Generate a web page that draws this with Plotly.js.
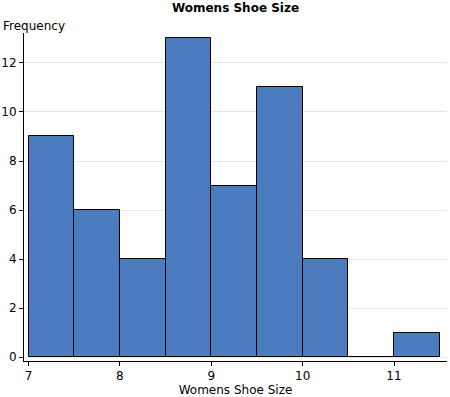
<!DOCTYPE html>
<html><head><meta charset="utf-8">
<script src="https://cdn.plot.ly/plotly-3.0.1.min.js"></script>
<style>html,body{margin:0;padding:0;background:#fff}#chart{width:450px;height:397px}</style>
</head><body><div id="chart"></div>
<script>
const binCenters = [7.25, 7.75, 8.25, 8.75, 9.25, 9.75, 10.25, 10.75, 11.25];
const frequencies = [9, 6, 4, 13, 7, 11, 4, 0, 1];
const xTicks = [7, 8, 9, 10, 11];
const yTicks = [0, 2, 4, 6, 8, 10, 12];
const font = 'DejaVu Sans, Verdana, sans-serif';

Plotly.newPlot('chart', [{
  type: 'bar',
  x: binCenters,
  y: frequencies,
  width: 0.5,
  marker: {color: '#4a7cbf', line: {color: '#000', width: 1}},
  hoverinfo: 'x+y'
}], {
  width: 450, height: 397,
  margin: {l: 24, r: 3, t: 33, b: 36},
  paper_bgcolor: '#fff', plot_bgcolor: '#fff',
  font: {family: font, size: 12, color: '#000'},
  title: {text: '<b>Womens Shoe Size</b>', x: 0.5, xref: 'paper', y: 0.99, yanchor: 'top', font: {family: font, size: 12}},
  xaxis: {
    range: [6.95, 11.58], tickvals: xTicks, ticktext: xTicks.map(String),
    showgrid: false, zeroline: false, showline: true, linecolor: '#000', linewidth: 1,
    ticks: 'outside', ticklen: 4, tickcolor: '#000',
    title: {text: 'Womens Shoe Size', standoff: 2, font: {family: font, size: 12}}
  },
  yaxis: {
    range: [-0.163, 13.224], tickvals: yTicks, ticktext: yTicks.map(String),
    showgrid: true, gridcolor: '#e6e6e6', zeroline: false, showline: true, linecolor: '#000', linewidth: 1,
    ticks: 'outside', ticklen: 4, tickcolor: '#000'
  },
  annotations: [{text: 'Frequency', xref: 'paper', yref: 'paper', x: -0.055, y: 0.995, xanchor: 'left', yanchor: 'bottom', showarrow: false, font: {family: font, size: 12}}],
  bargap: 0, showlegend: false
}, {displayModeBar: false});
</script></body></html>
